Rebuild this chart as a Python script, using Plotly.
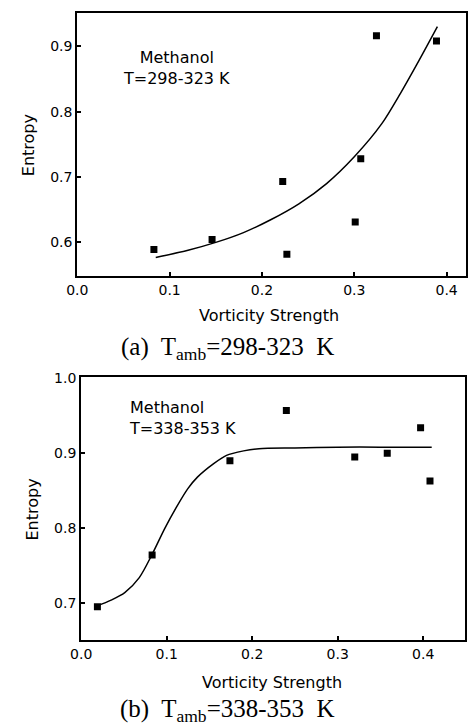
# %% ---- Requirements and constants ------------------------
import plotly.graph_objects as go

W, H = 468, 727

# (a) T_amb = 298-323 K, measured points
a_x = [0.083, 0.146, 0.2225, 0.227, 0.301, 0.307, 0.324, 0.389]
a_y = [0.589, 0.6045, 0.693, 0.582, 0.631, 0.728, 0.916, 0.908]
# (a) fitted curve
a_fit_x = [0.085, 0.12, 0.15, 0.18, 0.21, 0.24, 0.27, 0.30, 0.33, 0.35, 0.37, 0.39]
a_fit_y = [0.577, 0.588, 0.600, 0.615, 0.635, 0.659, 0.690, 0.731, 0.782, 0.828, 0.878, 0.930]

# (b) T_amb = 338-353 K, measured points
b_x = [0.019, 0.083, 0.174, 0.240, 0.320, 0.358, 0.397, 0.408]
b_y = [0.695, 0.764, 0.890, 0.957, 0.895, 0.900, 0.934, 0.863]
# (b) fitted curve
b_fit_x = [0.018, 0.035, 0.051, 0.068, 0.083, 0.098, 0.113, 0.125, 0.136, 0.155,
           0.170, 0.19, 0.208, 0.25, 0.30, 0.35, 0.41]
b_fit_y = [0.696, 0.704, 0.714, 0.734, 0.765, 0.800, 0.831, 0.853, 0.868, 0.886,
           0.897, 0.903, 0.906, 0.907, 0.908, 0.908, 0.908]

x_ticks = [0.0, 0.1, 0.2, 0.3, 0.4]
a_y_ticks = [0.6, 0.7, 0.8, 0.9]
b_y_ticks = [0.7, 0.8, 0.9, 1.0]

SANS = "DejaVu Sans"
SERIF = "Liberation Serif"


# %% ---- Function and class ------------------------
def px_x(p):
    return p / W


def px_y(p):
    return 1 - p / H


def axis_style(ticks, fmt):
    return dict(
        tickvals=ticks,
        tickformat=fmt,
        ticks="inside",
        ticklen=4,
        tickwidth=1.5,
        tickcolor="black",
        showline=True,
        linewidth=2,
        linecolor="black",
        mirror=True,
        showgrid=False,
        zeroline=False,
        tickfont=dict(family=SANS, size=14, color="black"),
    )


# %% ---- Play ground ------------------------
fig = go.Figure()

marker = dict(symbol="square", size=7, color="black")
line = dict(color="black", width=1.5, shape="spline", smoothing=0.8)

fig.add_trace(go.Scatter(x=a_fit_x, y=a_fit_y, mode="lines", line=line,
                         xaxis="x", yaxis="y"))
fig.add_trace(go.Scatter(x=a_x, y=a_y, mode="markers", marker=marker,
                         xaxis="x", yaxis="y"))
fig.add_trace(go.Scatter(x=b_fit_x, y=b_fit_y, mode="lines", line=line,
                         xaxis="x2", yaxis="y2"))
fig.add_trace(go.Scatter(x=b_x, y=b_y, mode="markers", marker=marker,
                         xaxis="x2", yaxis="y2"))

fig.update_layout(
    width=W, height=H,
    margin=dict(l=0, r=0, t=0, b=0),
    paper_bgcolor="white", plot_bgcolor="white",
    showlegend=False,
    xaxis=dict(domain=[px_x(68), px_x(467)], range=[0, 0.421], anchor="y",
               **axis_style(x_ticks, ".1f")),
    yaxis=dict(domain=[px_y(272), px_y(6)], range=[0.548, 0.951], anchor="x",
               **axis_style(a_y_ticks, ".1f")),
    xaxis2=dict(domain=[px_x(72), px_x(466)], range=[0, 0.449], anchor="y2",
                **axis_style(x_ticks, ".1f")),
    yaxis2=dict(domain=[px_y(639), px_y(374)], range=[0.651, 1.001], anchor="x2",
                **axis_style(b_y_ticks, ".1f")),
)

# %% ---- Texts ------------------------
txt = dict(family=SANS, size=16, color="black")
cap = dict(family=SERIF, size=25, color="black")
notes = [
    # axis titles
    dict(x=px_x(265), y=px_y(312), text="Vorticity Strength", font=txt),
    dict(x=px_x(18), y=px_y(140), text="Entropy", font=txt, textangle=-90),
    dict(x=px_x(268), y=px_y(682), text="Vorticity Strength", font=txt),
    dict(x=px_x(22), y=px_y(507), text="Entropy", font=txt, textangle=-90),
    # in-plot labels
    dict(x=px_x(170), y=px_y(62), text="Methanol<br>T=298-323 K", font=txt, align="center"),
    dict(x=px_x(119), y=px_y(415), text="Methanol<br>T=338-353 K", font=txt,
         align="left", xanchor="left"),
    # captions
    dict(x=px_x(222), y=px_y(345), text="(a)  T<sub>amb</sub>=298-323  K", font=cap),
    dict(x=px_x(222), y=px_y(710), text="(b)  T<sub>amb</sub>=338-353  K", font=cap),
]
for n in notes:
    n.setdefault("xanchor", "center")
    fig.add_annotation(xref="paper", yref="paper", showarrow=False,
                       yanchor="middle", **n)

# drop the page margin so the figure sits at the window's corner
fig.write_html("out.html", config={"displayModeBar": False},
               post_script="document.body.style.margin='0';document.body.style.overflow='hidden';")
